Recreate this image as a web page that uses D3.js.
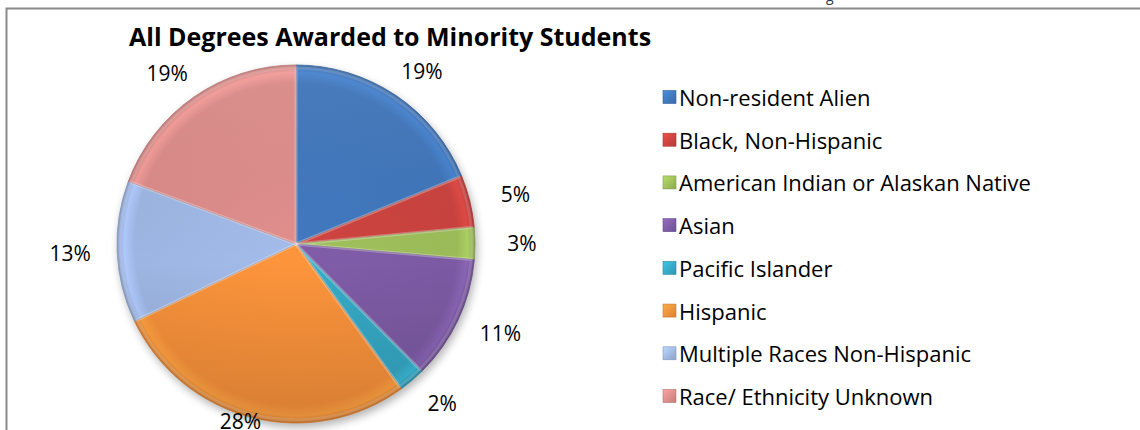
<!DOCTYPE html>
<html><head><meta charset="utf-8">
<script src="https://cdn.jsdelivr.net/npm/d3@7"></script>
<style>html,body{margin:0;padding:0;background:#fff;}svg{display:block;}</style>
</head><body>
<svg id="chart" width="1140" height="430"></svg>
<script>
const title = "All Degrees Awarded to Minority Students";
const categories = ["Non-resident Alien","Black, Non-Hispanic","American Indian or Alaskan Native","Asian","Pacific Islander","Hispanic","Multiple Races Non-Hispanic","Race/ Ethnicity Unknown"];
const values = [18.8, 4.7, 2.9, 11.2, 2.4, 27.9, 12.8, 19.3];
const labels = ["19%","5%","3%","11%","2%","28%","13%","19%"];
const colors = ["#3f75b9","#c8423e","#9bbb59","#7c5aa3","#35a6c2","#f5903a","#9db5e2","#d98a88"];

const svg = d3.select("#chart");
const W = 1140, H = 430;
const cx = 296, cy = 244, R = 179;
const font = "Open Sans, 'Noto Sans', sans-serif";

// frame
svg.append("path").attr("d", `M6.5,${H} L6.5,8.5 L${W},8.5`).attr("fill","none").attr("stroke","#8a8a8a").attr("stroke-width",2);
svg.append("text").attr("x",826).attr("y",1).attr("font-family",font).attr("font-size",14).attr("fill","#333").text("g");

const defs = svg.append("defs");
const shadow = defs.append("filter").attr("id","sh").attr("x","-20%").attr("y","-20%").attr("width","140%").attr("height","140%")
  .attr("color-interpolation-filters","sRGB");
shadow.append("feGaussianBlur").attr("in","SourceAlpha").attr("stdDeviation",4);
shadow.append("feOffset").attr("dx",2).attr("dy",4).attr("result","b");
shadow.append("feComponentTransfer").append("feFuncA").attr("type","linear").attr("slope",0.3);
const m = shadow.append("feMerge"); m.append("feMergeNode"); m.append("feMergeNode").attr("in","SourceGraphic");

colors.forEach((c,i)=>{
  const g = defs.append("radialGradient").attr("id","g"+i).attr("gradientUnits","userSpaceOnUse")
    .attr("cx",0).attr("cy",0).attr("r",R);
  g.append("stop").attr("offset","0%").attr("stop-color",d3.color(c).brighter(0.1));
  g.append("stop").attr("offset","90%").attr("stop-color",c);
  g.append("stop").attr("offset","96%").attr("stop-color",d3.color(c).brighter(0.3));
  g.append("stop").attr("offset","100%").attr("stop-color",d3.color(c).darker(0.4));
  const l = defs.append("linearGradient").attr("id","l"+i).attr("x1",0).attr("y1",0).attr("x2",1).attr("y2",1);
  l.append("stop").attr("offset","0%").attr("stop-color",d3.color(c).brighter(0.5));
  l.append("stop").attr("offset","100%").attr("stop-color",d3.color(c).darker(0.3));
});
const shade = defs.append("linearGradient").attr("id","shade").attr("x1",0).attr("y1",0).attr("x2",0).attr("y2",1);
shade.append("stop").attr("offset","0%").attr("stop-color","#fff").attr("stop-opacity",0.06);
shade.append("stop").attr("offset","55%").attr("stop-color","#000").attr("stop-opacity",0);
shade.append("stop").attr("offset","100%").attr("stop-color","#000").attr("stop-opacity",0.12);

const pie = d3.pie().sort(null).value(d=>d)(values);
const arc = d3.arc().innerRadius(0).outerRadius(R);
const pg = svg.append("g").attr("transform",`translate(${cx},${cy})`).attr("filter","url(#sh)");
pg.selectAll("path").data(pie).join("path")
  .attr("d",arc).attr("fill",(d,i)=>`url(#g${i})`)
  .attr("stroke",(d,i)=>d3.color(colors[i]).darker(0.5)).attr("stroke-width",0.8).attr("stroke-linejoin","round");
const og = svg.append("g").attr("transform",`translate(${cx},${cy})`);
og.append("circle").attr("r",R).attr("fill","url(#shade)");
const arcIn = d3.arc().innerRadius(0).outerRadius(R-3);
og.selectAll("path").data(pie).join("path")
  .attr("d",arcIn).attr("fill","none").attr("stroke","#fff").attr("stroke-opacity",0.15).attr("stroke-width",3);

// labels
const LRx = 226, LRy = 208;
svg.append("g").selectAll("text").data(pie).join("text")
  .attr("x",d=>{const a=(d.startAngle+d.endAngle)/2; return cx+LRx*Math.sin(a);})
  .attr("y",d=>{const a=(d.startAngle+d.endAngle)/2; return Math.min(cy-LRy*Math.cos(a),421);})
  .attr("text-anchor","middle").attr("dominant-baseline","central")
  .attr("font-family",font).attr("font-size",21).attr("fill","#000")
  .text((d,i)=>labels[i]);

// title
svg.append("text").attr("x",129).attr("y",46).attr("font-family",font).attr("font-weight","bold")
  .attr("font-size",25).attr("fill","#000").text(title);

// legend
const ly = d3.scalePoint().domain(categories).range([97, 396]);
const lg = svg.append("g").selectAll("g").data(categories).join("g")
  .attr("transform",d=>`translate(663,${ly(d)})`);
lg.append("rect").attr("x",0).attr("y",-6.5).attr("width",13).attr("height",13)
  .attr("fill",(d,i)=>`url(#l${i})`).attr("stroke",(d,i)=>d3.color(colors[i]).darker(0.5)).attr("stroke-width",0.6);
lg.append("text").attr("x",16).attr("y",0).attr("dominant-baseline","central")
  .attr("font-family",font).attr("font-size",22).attr("fill","#000").text(d=>d);
</script>
</body></html>
